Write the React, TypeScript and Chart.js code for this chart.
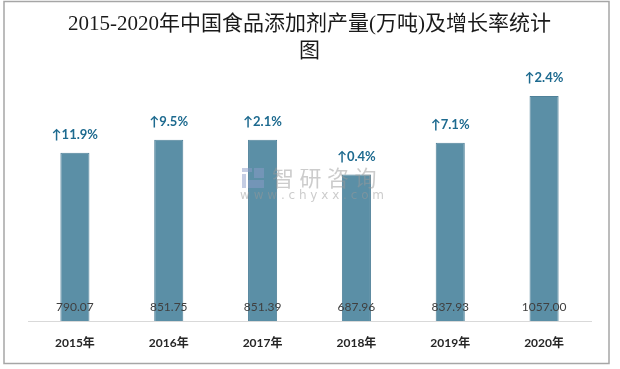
import React, { useEffect, useRef } from "react";
import { Chart, registerables } from "chart.js";

Chart.register(...registerables);

const categories = ["2015年", "2016年", "2017年", "2018年", "2019年", "2020年"];
const production = [790.07, 851.75, 851.39, 687.96, 837.93, 1057.0];
const growthLabels = ["↑11.9%", "↑9.5%", "↑2.1%", "↑0.4%", "↑7.1%", "↑2.4%"];
const titleLines = ["2015-2020年中国食品添加剂产量(万吨)及增长率统计", "图"];
const watermarkChars = ["智", "研", "咨", "询"];
const watermarkUrl = "w w w . c h y x x . c o m";

const decorPlugin = {
  id: "decor",
  beforeDraw(chart: any) {
    const ctx = chart.ctx;
    ctx.save();
    ctx.fillStyle = "#ffffff";
    ctx.fillRect(0, 0, chart.width, chart.height);
    ctx.strokeStyle = "#a6a6a6";
    ctx.lineWidth = 1.5;
    ctx.strokeRect(4, 1.5, 605, 362);
    ctx.restore();
  },
  afterDatasetsDraw(chart: any) {
    const ctx = chart.ctx;
    const meta = chart.getDatasetMeta(0);
    ctx.save();
    // value labels near bottom of bars
    ctx.font = "12px Lato, 'Noto Sans', sans-serif";
    ctx.fillStyle = "#404040";
    ctx.textAlign = "center";
    ctx.textBaseline = "middle";
    meta.data.forEach((bar: any, i: number) => {
      ctx.fillText(production[i].toFixed(2), bar.x, chart.chartArea.bottom - 14);
    });
    // growth labels above bars
    ctx.font = "bold 13px Lato, 'Noto Sans', 'DejaVu Sans', sans-serif";
    ctx.fillStyle = "#1d6a8f";
    meta.data.forEach((bar: any, i: number) => {
      ctx.fillText(growthLabels[i], bar.x, bar.y - 18);
    });
    // watermark
    ctx.globalAlpha = 0.5;
    ctx.fillStyle = "#8c9cc8";
    ctx.fillRect(242, 168, 10, 4);
    ctx.fillRect(242, 174, 4, 14);
    ctx.fillRect(254, 168, 10, 10);
    ctx.fillRect(248, 180, 16, 8);
    ctx.fillStyle = "#9a9a9a";
    ctx.font = "22px 'Noto Sans CJK SC', sans-serif";
    ctx.textAlign = "left";
    watermarkChars.forEach((c, i) => {
      ctx.fillText(c, 272 + i * 27.5, 178);
    });
    ctx.font = "12px 'DejaVu Sans', sans-serif";
    ctx.fillText(watermarkUrl, 240, 196);
    ctx.restore();
  },
};

export default function App() {
  const ref = useRef<HTMLCanvasElement | null>(null);
  useEffect(() => {
    if (!ref.current) return;
    const chart = new Chart(ref.current, {
      type: "bar",
      data: {
        labels: categories,
        datasets: [
          {
            data: production,
            backgroundColor: "#5b8fa6",
            borderColor: "#4f8199",
            borderWidth: 1,
            barPercentage: 0.31,
            categoryPercentage: 1,
          },
        ],
      },
      options: {
        animation: false,
        responsive: false,
        layout: { padding: { left: 28, right: 29, top: 0, bottom: 0 } },
        plugins: {
          legend: { display: false },
          tooltip: { enabled: false },
          title: {
            display: true,
            text: titleLines,
            color: "#1a1a1a",
            font: {
              family: "'Liberation Serif', 'Noto Sans CJK SC', serif",
              size: 21,
              weight: "normal",
              lineHeight: 1.3,
            },
            padding: { top: 11, bottom: 0 },
          },
        },
        scales: {
          x: {
            grid: { display: false, drawTicks: false },
            border: { display: true, color: "#d9d9d9", width: 1 },
            afterFit: (scale: any) => {
              scale.height = 48;
            },
            ticks: {
              color: "#262626",
              padding: 15,
              font: { family: "Lato, 'Noto Sans CJK SC', sans-serif", size: 12, weight: "bold" },
            },
          },
          y: {
            display: false,
            min: 0,
            max: 1200,
          },
        },
      },
      plugins: [decorPlugin],
    });
    return () => chart.destroy();
  }, []);
  return (
    <div style={{ position: "fixed", left: 0, top: 0, width: 620, height: 369 }}>
      <canvas ref={ref} width={620} height={369} />
    </div>
  );
}
